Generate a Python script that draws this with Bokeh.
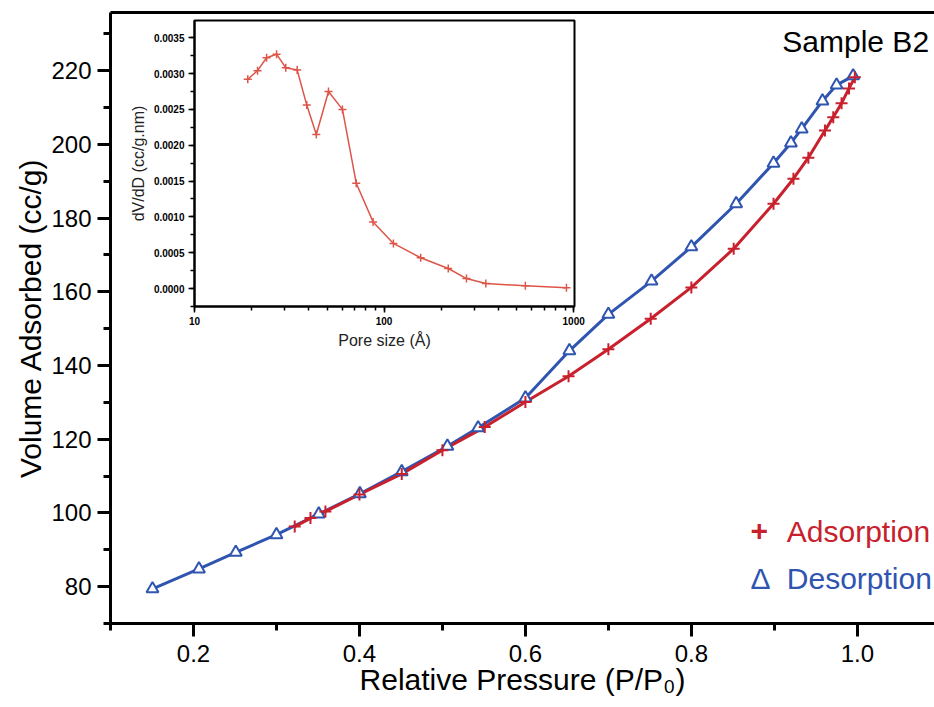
from bokeh.plotting import figure
from bokeh.models import (LinearAxis, SingleIntervalTicker, FixedTicker, Label,
                          PrintfTickFormatter, LogTicker, Range1d)
from bokeh.embed import file_html
from bokeh.resources import INLINE

# ---- main isotherm data ----
ads_p = [0.322, 0.341, 0.359, 0.400, 0.451, 0.500, 0.551, 0.600, 0.652, 0.700,
         0.751, 0.800, 0.851, 0.899, 0.923, 0.941, 0.961, 0.971, 0.981, 0.990, 0.997]
ads_v = [96.3, 98.6, 100.4, 105.0, 110.6, 117.0, 123.3, 130.1, 137.1, 144.4,
         152.7, 161.2, 171.7, 183.9, 190.7, 196.4, 203.8, 207.4, 211.2, 215.2, 218.2]

des_p = [0.995, 0.975, 0.958, 0.933, 0.920, 0.899, 0.854, 0.800, 0.752, 0.700, 0.653,
         0.600, 0.543, 0.506, 0.451, 0.4005, 0.351, 0.300, 0.251, 0.2066, 0.1506]
des_v = [218.6, 216.1, 211.8, 204.2, 200.4, 194.9, 183.9, 172.2, 162.9, 153.9, 144.0,
         131.2, 123.1, 118.1, 111.2, 105.2, 99.7, 94.1, 89.3, 84.8, 79.4]

# ---- inset pore size distribution ----
pore = [19.1, 21.5, 24.0, 27.1, 30.3, 34.8, 39.1, 43.9, 50.9, 60.3, 71.3, 87.5,
        112, 156, 218, 272, 344, 556, 916]
dvdd = [0.00292, 0.00304, 0.00322, 0.00327, 0.00308, 0.00305, 0.00256, 0.00215,
        0.00275, 0.00250, 0.00147, 0.00093, 0.00063, 0.00043, 0.00028, 0.00014,
        0.00007, 0.00004, 0.00001]

FONT = "Liberation Sans"
RED = "#c8202c"
BLUE = "#2f55b0"
INSET_RED = "#dd5548"

p = figure(width=934, height=707, x_range=Range1d(0.1, 1.093), y_range=Range1d(70, 235.8),
           output_backend="svg", toolbar_location=None, sizing_mode="fixed",
           min_border_left=110, min_border_right=0, min_border_top=12, min_border_bottom=84)
p.grid.visible = False
p.outline_line_color = None
p.background_fill_color = "white"

p.xaxis.ticker = SingleIntervalTicker(interval=0.2, num_minor_ticks=2)
p.xaxis.formatter = PrintfTickFormatter(format="%.1f")
p.yaxis.ticker = SingleIntervalTicker(interval=20, num_minor_ticks=2)
p.xaxis.axis_label = "Relative Pressure (P/P\u2080)"
p.yaxis.axis_label = "Volume Adsorbed (cc/g)"

for ax in (p.xaxis, p.yaxis):
    ax.axis_line_width = 3
    ax.major_tick_line_width = 3
    ax.minor_tick_line_width = 3
    ax.major_tick_in = 0
    ax.minor_tick_in = 0
    ax.major_tick_out = 13
    ax.minor_tick_out = 7
    ax.major_label_text_font = FONT
    ax.major_label_text_font_size = "24px"
    ax.major_label_text_color = "black"
    ax.axis_label_text_font = FONT
    ax.axis_label_text_font_size = "30px"
    ax.axis_label_text_font_style = "normal"
    ax.axis_label_text_color = "black"
p.xaxis.major_label_standoff = 8
p.xaxis.axis_label_standoff = -2
p.yaxis.major_label_standoff = 6
p.yaxis.axis_label_standoff = 1

top = LinearAxis(ticker=FixedTicker(ticks=[]), axis_line_width=3,
                 major_label_text_font_size="0px", major_tick_out=0, minor_tick_out=0,
                 major_label_standoff=0)
p.add_layout(top, "above")

p.line(des_p, des_v, line_color=BLUE, line_width=3)
p.line(ads_p, ads_v, line_color=RED, line_width=3)
p.scatter(des_p, des_v, marker="triangle", size=12, line_color=BLUE, line_width=2,
          fill_color="white")
p.scatter(ads_p, ads_v, marker="cross", size=12, line_color=RED, line_width=2)

p.add_layout(Label(x=0.9096, y=228.0, text="Sample B2", text_font=FONT,
                   text_font_size="30px", text_color="black", text_baseline="alphabetic"))
p.add_layout(Label(x=0.8714, y=95.0, text="+", text_font=FONT, text_font_size="30px",
                   text_color=RED, text_font_style="bold", text_baseline="alphabetic"))
p.add_layout(Label(x=0.9150, y=95.0, text="Adsorption", text_font=FONT, text_font_size="30px",
                   text_color=RED, text_baseline="alphabetic"))
p.add_layout(Label(x=0.8714, y=82.2, text="\u0394", text_font=FONT, text_font_size="30px",
                   text_color=BLUE, text_baseline="alphabetic"))
p.add_layout(Label(x=0.9150, y=82.2, text="Desorption", text_font=FONT, text_font_size="30px",
                   text_color=BLUE, text_baseline="alphabetic"))

# ---- inset ----
ins = figure(width=463, height=334, x_axis_type="log",
             x_range=Range1d(10, 1010), y_range=Range1d(-0.00025, 0.00374),
             output_backend="svg", toolbar_location=None, sizing_mode="fixed",
             min_border_left=69, min_border_right=14, min_border_top=3, min_border_bottom=45,
             styles={"position": "absolute", "left": "125px", "top": "17px"})
ins.grid.visible = False
ins.background_fill_alpha = 0
ins.border_fill_alpha = 0
ins.outline_line_color = "black"
ins.outline_line_width = 2
ins.xaxis.ticker = LogTicker(num_minor_ticks=10)
ins.xaxis.formatter = PrintfTickFormatter(format="%d")
ins.yaxis.ticker = SingleIntervalTicker(interval=0.0005, num_minor_ticks=2)
ins.yaxis.formatter = PrintfTickFormatter(format="%.4f")
ins.xaxis.axis_label = "Pore size (\u00c5)"
ins.yaxis.axis_label = "dV/dD (cc/g.nm)"
for ax in (ins.xaxis, ins.yaxis):
    ax.axis_line_width = 2
    ax.major_tick_line_width = 1.5
    ax.minor_tick_line_width = 1.5
    ax.major_tick_in = 0
    ax.minor_tick_in = 0
    ax.major_tick_out = 6
    ax.minor_tick_out = 4
    ax.major_label_text_font = FONT
    ax.major_label_text_font_size = "10px"
    ax.major_label_text_font_style = "bold"
    ax.major_label_text_color = "black"
    ax.major_label_standoff = 4
    ax.axis_label_text_font = FONT
    ax.axis_label_text_font_size = "16px"
    ax.axis_label_text_font_style = "normal"
    ax.axis_label_text_color = "#222222"
    ax.axis_label_standoff = 4

ins.line(pore, dvdd, line_color=INSET_RED, line_width=1.5)
ins.scatter(pore, dvdd, marker="cross", size=8, line_color=INSET_RED, line_width=1.5)

open("out.html", "w").write(file_html([p, ins], INLINE))
